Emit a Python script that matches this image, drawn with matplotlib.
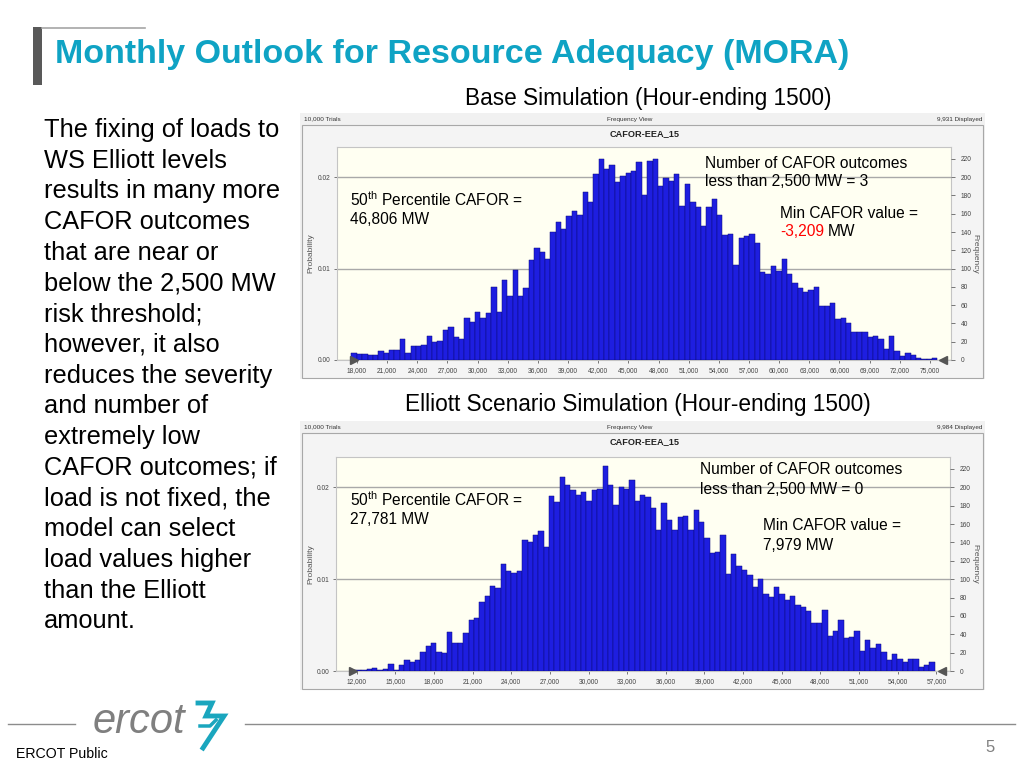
import matplotlib
matplotlib.use('Agg')
import matplotlib.pyplot as plt
import numpy as np
from matplotlib.patches import Rectangle
from matplotlib.lines import Line2D
from matplotlib.ticker import FuncFormatter

plt.rcParams['font.family'] = ['Liberation Sans', 'DejaVu Sans']
plt.rcParams['mathtext.fontset'] = 'custom'
plt.rcParams['mathtext.rm'] = 'Liberation Sans'

# ---------------- data ----------------
trials = 10000
base_bin_start = 17440
base_bin_width = 535
base_freq = [8, 7, 7, 5, 6, 10, 8, 11, 11, 23,
             8, 15, 15, 16, 26, 20, 21, 33, 36, 25,
             23, 46, 42, 53, 46, 51, 80, 52, 88, 70,
             98, 70, 79, 109, 122, 118, 111, 140, 151, 143,
             157, 163, 159, 184, 173, 204, 220, 209, 213, 195,
             201, 205, 207, 217, 180, 218, 220, 190, 199, 196,
             203, 168, 193, 173, 167, 147, 167, 176, 159, 137,
             138, 104, 134, 136, 138, 128, 96, 94, 103, 97,
             111, 94, 84, 79, 74, 77, 80, 59, 59, 62,
             45, 46, 40, 31, 31, 31, 25, 26, 23, 12,
             26, 10, 4, 8, 5, 2, 1, 1, 2]
base_xticks = list(range(18000, 75001, 3000))
base_xlim = (16008, 77100)

elliott_bin_start = 11534
elliott_bin_width = 416
elliott_freq = [1, 1, 1, 2, 3, 1, 2, 8, 1, 7,
                12, 10, 12, 21, 27, 31, 21, 20, 43, 31,
                30, 41, 55, 58, 75, 82, 93, 90, 116, 109,
                107, 109, 143, 140, 148, 152, 135, 191, 184, 211,
                202, 197, 192, 195, 185, 197, 198, 223, 202, 181,
                200, 198, 208, 185, 192, 189, 177, 154, 183, 164,
                154, 168, 169, 154, 175, 162, 145, 129, 130, 148,
                106, 127, 114, 110, 104, 91, 100, 84, 81, 92,
                84, 77, 82, 72, 70, 65, 52, 52, 66, 38,
                44, 55, 36, 37, 44, 22, 34, 25, 29, 21,
                12, 19, 13, 10, 13, 13, 4, 7, 10]
elliott_xticks = list(range(12000, 57001, 3000))
elliott_xlim = (10393, 58064)

freq_ticks = list(range(0, 221, 20))
prob_ticks = [0.00, 0.01, 0.02]
y_max = 233

left_text = ["The fixing of loads to", "WS Elliott levels", "results in many more",
             "CAFOR outcomes", "that are near or", "below the 2,500 MW",
             "risk threshold;", "however, it also", "reduces the severity",
             "and number of", "extremely low", "CAFOR outcomes; if",
             "load is not fixed, the", "model can select", "load values higher",
             "than the Elliott", "amount."]

# ---------------- figure ----------------
W, H = 1024, 768
fig = plt.figure(figsize=(W / 100, H / 100), dpi=100)
fig.patch.set_facecolor('white')


def fx(x):
    return x / W


def fy(y):
    return 1 - y / H


def box(x0, y0, x1, y1):
    return [x0 / W, 1 - y1 / H, (x1 - x0) / W, (y1 - y0) / H]


def rect(x0, y0, x1, y1, **kw):
    r = Rectangle((fx(x0), fy(y1)), (x1 - x0) / W, (y1 - y0) / H,
                  transform=fig.transFigure, **kw)
    fig.patches.append(r)
    return r


def text(x, y, s, **kw):
    kw.setdefault('va', 'center')
    kw.setdefault('zorder', 10)
    return fig.text(fx(x), fy(y), s, **kw)


def hline(x0, x1, y, **kw):
    fig.add_artist(Line2D([fx(x0), fx(x1)], [fy(y), fy(y)], transform=fig.transFigure, **kw))


# title block
rect(33, 27, 42, 85, facecolor='#595959', edgecolor='none')
hline(42, 145, 27.5, color='#A6A6A6', lw=1.2)
text(55, 54, "Monthly Outlook for Resource Adequacy (MORA)", fontsize=24.5,
     fontweight='bold', color='#0FA3C4', ha='left')

# left text
for i, line in enumerate(left_text):
    text(44, 130 + i * 30.7, line, fontsize=18.3, color='black', ha='left')

# chart subtitles
text(648, 98, "Base Simulation (Hour-ending 1500)", fontsize=16.3, ha='center')
text(638, 405, "Elliott Scenario Simulation (Hour-ending 1500)", fontsize=16.3, ha='center')


def draw_chart(panel, plot, start, width, freq, xticks, xlim, displayed):
    px0, py0, px1, py1 = panel
    rect(px0, py0, px1, py1, facecolor='#F1F1F1', edgecolor='none', zorder=-2)
    text(px0 + 4, py0 + 6, "10,000 Trials", fontsize=4.6, ha='left', color='#333333')
    text((px0 + px1) / 2 - 13, py0 + 6, "Frequency View", fontsize=4.6, ha='center', color='#333333')
    text(px1 - 3, py0 + 6, displayed, fontsize=4.6, ha='right', color='#333333')
    rect(px0 + 2, py0 + 12, px1 - 2, py1 - 1, facecolor='#F4F4F4', edgecolor='#A8A8A8',
         lw=0.8, zorder=-1)
    text((px0 + px1) / 2 + 2, py0 + 21, "CAFOR-EEA_15", fontsize=6.6, fontweight='bold',
         ha='center', color='#222222')

    x0, y0, x1, y1 = plot
    ax = fig.add_axes(box(x0, y0, x1, y1))
    ax.set_zorder(2)
    ax.set_facecolor('#FFFFF2')
    lefts = start + width * np.arange(len(freq))
    ax.bar(lefts, freq, width=width, align='edge', color='#1E1EE0',
           edgecolor='#0A0A7A', linewidth=0.35, zorder=3)
    ax.set_xlim(*xlim)
    ax.set_ylim(0, y_max)
    ax.set_xticks(xticks)
    ax.xaxis.set_major_formatter(FuncFormatter(lambda v, p: f"{int(v):,}"))
    ax.set_yticks([p * trials for p in prob_ticks])
    ax.yaxis.set_major_formatter(FuncFormatter(lambda v, p: f"{v / trials:.2f}"))
    ax.yaxis.grid(True, color='#A9A9A9', lw=1.0, zorder=1)
    ax.set_axisbelow(True)
    ax.tick_params(axis='both', labelsize=4.8, colors='#444444', length=2, width=0.5, pad=3)
    for s in ax.spines.values():
        s.set_color('#C4C4C4')
        s.set_linewidth(0.8)

    ax2 = ax.twinx()
    ax2.set_zorder(3)
    ax2.patch.set_visible(False)
    ax2.set_ylim(0, y_max)
    ax2.set_yticks(freq_ticks)
    ax2.tick_params(axis='y', labelsize=4.8, colors='#444444', length=3, width=0.5, pad=4)
    for s in ax2.spines.values():
        s.set_visible(False)

    # certainty grabbers
    ax2.plot([0.028], [0.0], marker='>', ms=6, color='#555555', transform=ax2.transAxes,
             clip_on=False, zorder=5)
    ax2.plot([0.987], [0.0], marker='<', ms=6, color='#555555', transform=ax2.transAxes,
             clip_on=False, zorder=5)

    cy = (y0 + y1) / 2
    text(311, cy, "Probability", rotation=90, fontsize=6, ha='center', color='#555555')
    text(975, cy, "Frequency", rotation=270, fontsize=6, ha='center', color='#555555')
    return ax


draw_chart((300, 113, 985, 379), (337, 147, 951, 360), base_bin_start, base_bin_width,
           base_freq, base_xticks, base_xlim, "9,931 Displayed")
draw_chart((300, 421, 985, 690), (336, 457, 950, 671), elliott_bin_start, elliott_bin_width,
           elliott_freq, elliott_xticks, elliott_xlim, "9,984 Displayed")

# annotations (top)
ann = dict(fontsize=11.2, ha='left', color='black')
text(350, 200, r"50$^{\mathrm{th}}$ Percentile CAFOR =", **ann)
text(350, 219, "46,806 MW", **ann)
text(705, 163, "Number of CAFOR outcomes", **ann)
text(705, 181, "less than 2,500 MW = 3", **ann)
text(780, 214, "Min CAFOR value =", **ann)
text(780, 232, "-3,209", fontsize=11.2, ha='left', color='#FF0000')
text(828, 232, "MW", **ann)

# annotations (bottom)
text(700, 470, "Number of CAFOR outcomes", **ann)
text(700, 489, "less than 2,500 MW = 0", **ann)
text(350, 500, r"50$^{\mathrm{th}}$ Percentile CAFOR =", **ann)
text(350, 519, "27,781 MW", **ann)
text(763, 526, "Min CAFOR value =", **ann)
text(763, 545, "7,979 MW", **ann)

# footer
hline(8, 75, 724, color='#8C8C8C', lw=1.0)
hline(245, 1015, 724, color='#8C8C8C', lw=1.0)
text(93, 722, "ercot", fontsize=30, style='italic', color='#7F7F7F', ha='left')
logo_x = [198, 212, 206, 224, 203]
logo_y = [703, 703, 716, 716, 748]
fig.add_artist(Line2D([fx(v) for v in logo_x], [fy(v) for v in logo_y],
                      transform=fig.transFigure, color='#1AA6BE', lw=3.5,
                      solid_joinstyle='miter'))
fig.add_artist(Line2D([fx(200), fx(210), fx(216)], [fy(726), fy(726), fy(720)],
                      transform=fig.transFigure, color='#1AA6BE', lw=2.5))
text(16, 754, "ERCOT Public", fontsize=10.2, ha='left', color='black')
text(990, 748, "5", fontsize=12, ha='center', color='#808080')

fig.savefig('out.png', dpi=100)
